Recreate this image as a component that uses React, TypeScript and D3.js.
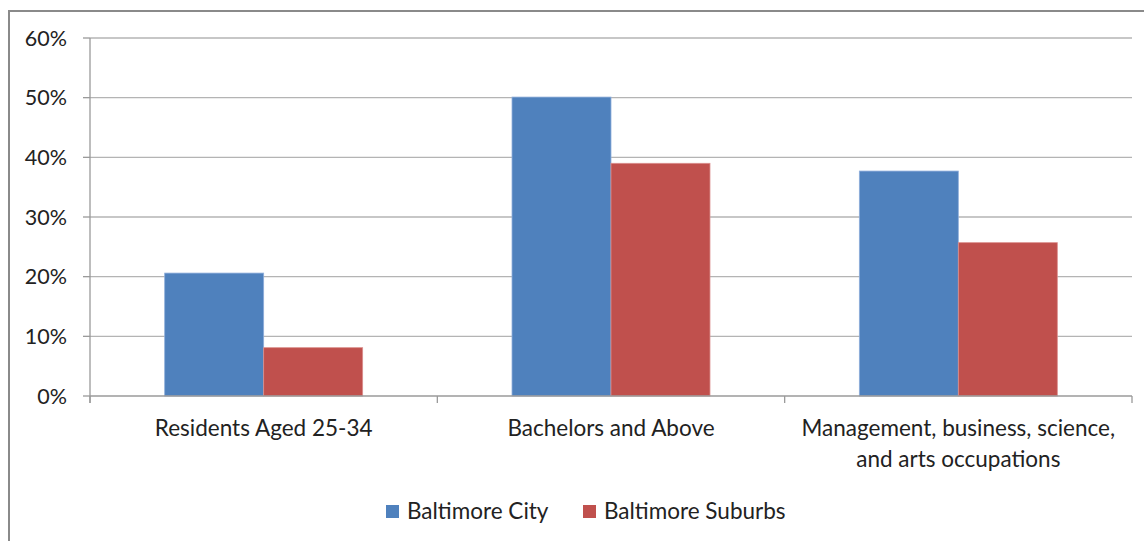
import React from "react";
import * as d3 from "d3";

const categories: string[][] = [
  ["Residents Aged 25-34"],
  ["Bachelors and Above"],
  ["Management, business, science,", "and arts occupations"],
];
const seriesNames = ["Baltimore City", "Baltimore Suburbs"];
const cityValues = [0.206, 0.501, 0.377];
const suburbValues = [0.081, 0.39, 0.257];
const yTicks = [0, 0.1, 0.2, 0.3, 0.4, 0.5, 0.6];
const colors = ["#4F81BD", "#C0504D"];
const strokes = ["#8FAEDB", "#DB8F8D"];

export default function App() {
  const W = 1144, H = 541;
  const left = 90, right = 1132, top = 38, bottom = 396;
  const x0 = d3.scaleBand<number>().domain([0, 1, 2]).range([left, right]).paddingInner(0).paddingOuter(0);
  const bw = x0.bandwidth();
  const pad = 0.215;
  const x1 = d3.scaleBand<number>().domain([0, 1]).range([bw * pad, bw * (1 - pad)]);
  const y = d3.scaleLinear().domain([0, 0.6]).range([bottom, top]);
  const fmt = d3.format(".0%");
  const font = "Lato, sans-serif";
  const series = [cityValues, suburbValues];
  return (
    <svg width={W} height={H} style={{ position: "absolute", left: 0, top: 0 }} fontFamily={font}>
      <rect x={0} y={0} width={W} height={H} fill="#fff" />
      <rect x={9} y={11} width={W + 20} height={H + 20} fill="none" stroke="#8a8a8a" strokeWidth={2} />
      {yTicks.map((t) => (
        <g key={t}>
          {t > 0 && <line x1={left} x2={right} y1={y(t)} y2={y(t)} stroke="#b4b4b4" strokeWidth={1.3} />}
          <line x1={left - 7} x2={left} y1={y(t)} y2={y(t)} stroke="#9a9a9a" strokeWidth={1.3} />
          <text x={67} y={y(t)} dy="0.35em" textAnchor="end" fontSize={21.5} fill="#222">{fmt(t)}</text>
        </g>
      ))}
      {series.map((vals, si) =>
        vals.map((v, ci) => (
          <rect key={`${si}-${ci}`} x={(x0(ci) as number) + (x1(si) as number)} y={y(v)} width={x1.bandwidth()} height={bottom - y(v)} fill={colors[si]} stroke={strokes[si]} strokeWidth={0.8} />
        ))
      )}
      <line x1={left} x2={left} y1={top} y2={bottom + 7} stroke="#9a9a9a" strokeWidth={1.3} />
      <line x1={left} x2={right} y1={bottom} y2={bottom} stroke="#9a9a9a" strokeWidth={1.5} />
      {[0, 1, 2, 3].map((i) => {
        const xx = i < 3 ? (x0(i) as number) : right;
        return <line key={i} x1={xx} x2={xx} y1={bottom} y2={bottom + 7} stroke="#9a9a9a" strokeWidth={1.3} />;
      })}
      {categories.map((lines, ci) => (
        <text key={ci} x={(x0(ci) as number) + bw / 2} y={428} textAnchor="middle" fontSize={22.5} fill="#222">
          {lines.map((l, li) => (
            <tspan key={li} x={(x0(ci) as number) + bw / 2} y={428 + li * 31} dy="0.35em">{l}</tspan>
          ))}
        </text>
      ))}
      {seriesNames.map((n, i) => {
        const lx = i === 0 ? 386 : 583;
        return (
          <g key={n}>
            <rect x={lx} y={505} width={13} height={13} fill={colors[i]} />
            <text x={lx + 21} y={511.5} dy="0.35em" fontSize={22.5} fill="#222">{n}</text>
          </g>
        );
      })}
    </svg>
  );
}
